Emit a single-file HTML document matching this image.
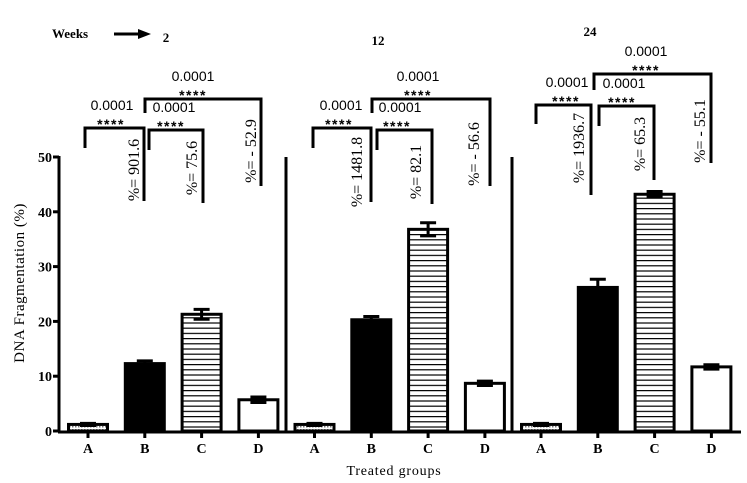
<!DOCTYPE html>
<html><head><meta charset="utf-8"><style>
html,body{margin:0;padding:0;background:#fff;}
svg{display:block;}
.ann{font-family:"Liberation Sans",sans-serif;font-size:14px;fill:#000;}
.ser{font-family:"Liberation Serif",serif;fill:#000;}
</style></head><body>
<svg id="chart" width="747" height="483" viewBox="0 0 747 483" xmlns="http://www.w3.org/2000/svg">
<defs>
<pattern id="hatch" width="6" height="5.2" patternUnits="userSpaceOnUse">
<rect width="6" height="5.2" fill="#fff"/><line x1="0" y1="0.6" x2="6" y2="0.6" stroke="#000" stroke-width="1.2"/>
</pattern>
<pattern id="dots" width="3" height="3" patternUnits="userSpaceOnUse">
<rect width="3" height="3" fill="#fff"/><rect width="1.5" height="1.5" fill="#777"/>
</pattern>
</defs>
<text class="ser" x="52" y="38" font-size="13" font-weight="bold">Weeks</text>
<line x1="114" y1="34" x2="140" y2="34" stroke="#000" stroke-width="3"/>
<polygon points="138,29 151,34 138,39" fill="#000"/>
<text class="ser" x="166" y="42" font-size="13" font-weight="bold" text-anchor="middle">2</text>
<text class="ser" x="378" y="45" font-size="13" font-weight="bold" text-anchor="middle">12</text>
<text class="ser" x="590" y="36" font-size="13" font-weight="bold" text-anchor="middle">24</text>
<text class="ser" transform="translate(24,283) rotate(-90)" font-size="15" letter-spacing="0.5" text-anchor="middle">DNA Fragmentation (%)</text>
<text class="ser" x="394" y="475" font-size="14" letter-spacing="0.8" text-anchor="middle">Treated groups</text>
<g id="plot"></g>
</svg>
<script>
const groups = ["2", "12", "24"];
const categories = ["A", "B", "C", "D"];
const valuesW2 = [1.2, 12.3, 21.3, 5.7];
const valuesW12 = [1.2, 20.3, 36.8, 8.7];
const valuesW24 = [1.2, 26.2, 43.2, 11.7];
const errW2 = [0.2, 0.5, 0.9, 0.5];
const errW12 = [0.2, 0.6, 1.2, 0.4];
const errW24 = [0.2, 1.5, 0.5, 0.4];
const yTicks = [0, 10, 20, 30, 40, 50];
const pctLabels = [["%= 901.6", "%= 75.6", "%= - 52.9"], ["%= 1481.8", "%= 82.1", "%= - 56.6"], ["%= 1936.7", "%= 65.3", "%= - 55.1"]];
const pValue = "0.0001";
const stars = "****";

const NS = "http://www.w3.org/2000/svg";
const plot = document.getElementById("plot");
const y = v => 431 - v * 5.48;
const x = (g, i) => 88 + g * 226.5 + i * 56.8;
function mk(tag, attrs, parent) {
  const e = document.createElementNS(NS, tag);
  for (const k in attrs) e.setAttribute(k, attrs[k]);
  (parent || plot).appendChild(e);
  return e;
}
let ax = mk("line", {x1: 59, y1: 156, x2: 59, y2: 432, stroke: "#000", "stroke-width": 3});


yTicks.forEach(t => {
  const tk = mk("line", {x1: 53, y1: y(t), x2: 59, y2: y(t), stroke: "#000", "stroke-width": 3});
  
  
  const tl = mk("text", {x: 52, y: y(t) + 5, "text-anchor": "end", "font-size": 14, "font-weight": "bold", class: "ser"});
  tl.textContent = t;
  
  
});
let xa = mk("line", {x1: 58, y1: 432, x2: 741, y2: 432, stroke: "#000", "stroke-width": 3});


[286, 512].forEach(sx => {
  const s = mk("line", {x1: sx, y1: 157, x2: sx, y2: 431, stroke: "#000", "stroke-width": 3});
  
  
});
const allVals = [valuesW2, valuesW12, valuesW24];
const allErr = [errW2, errW12, errW24];
const fills = ["url(#dots)", "#000", "url(#hatch)", "#fff"];
groups.forEach((gname, g) => {
  categories.forEach((c, i) => {
    const v = allVals[g][i], e = allErr[g][i], cx = x(g, i);
    const b = mk("rect", {x: cx - 19.5, y: y(v), width: 39, height: 431 - y(v), fill: fills[i], stroke: "#000", "stroke-width": 3});
    
    
    const eb = mk("path", {d: `M${cx-8},${y(v+e)}H${cx+8}M${cx},${y(v+e)}V${y(v-e)}M${cx-8},${y(v-e)}H${cx+8}`, stroke: "#000", "stroke-width": 3, fill: "none"});
    
    
    const tk = mk("line", {x1: cx, y1: 432, x2: cx, y2: 438, stroke: "#000", "stroke-width": 3});
    
    
    const tl = mk("text", {x: cx, y: 453, "text-anchor": "middle", "font-size": 14, "font-weight": "bold", class: "ser"});
    tl.textContent = c;
    
    
  });
});
const br = [
  [[85,128,148,144,201,112,111,133,170],[149,130,150,203,203,174,171,191,168],[145,99,113,261,186,193,193,250,151]],
  [[313,128,148,371,202,341,339,356,172],[377,130,150,432,204,400,397,415,172],[372,99,113,490,186,418,418,473,154]],
  [[536,105,124,591,195,567,566,578,148],[599,106,126,654,180,624,622,639,144],[594,74,90,711,163,646,646,699,131]]
];
br.forEach((grp, g) => grp.forEach((b, k) => {
  const [l, t, lb, r, rb, pcx, scx, tx, ty] = b;
  const p = mk("path", {d: `M${l},${lb}V${t}H${r}V${rb}`, stroke: "#000", "stroke-width": 3, fill: "none"});
  
  
  const pv = mk("text", {x: pcx, y: t - 18, "text-anchor": "middle", class: "ann"});
  pv.textContent = pValue;
  
  
  const st = mk("text", {x: scx, y: t + 1, "text-anchor": "middle", class: "ann", "font-size": 18, "font-weight": "bold", "letter-spacing": 1.5});
  st.textContent = stars;
  
  
  const pc = mk("text", {transform: `translate(${tx+6},${ty}) rotate(-90)`, "text-anchor": "middle", class: "ser", "font-size": 16});
  pc.textContent = pctLabels[g][k];
  
  
}));
</script>
</body></html>
